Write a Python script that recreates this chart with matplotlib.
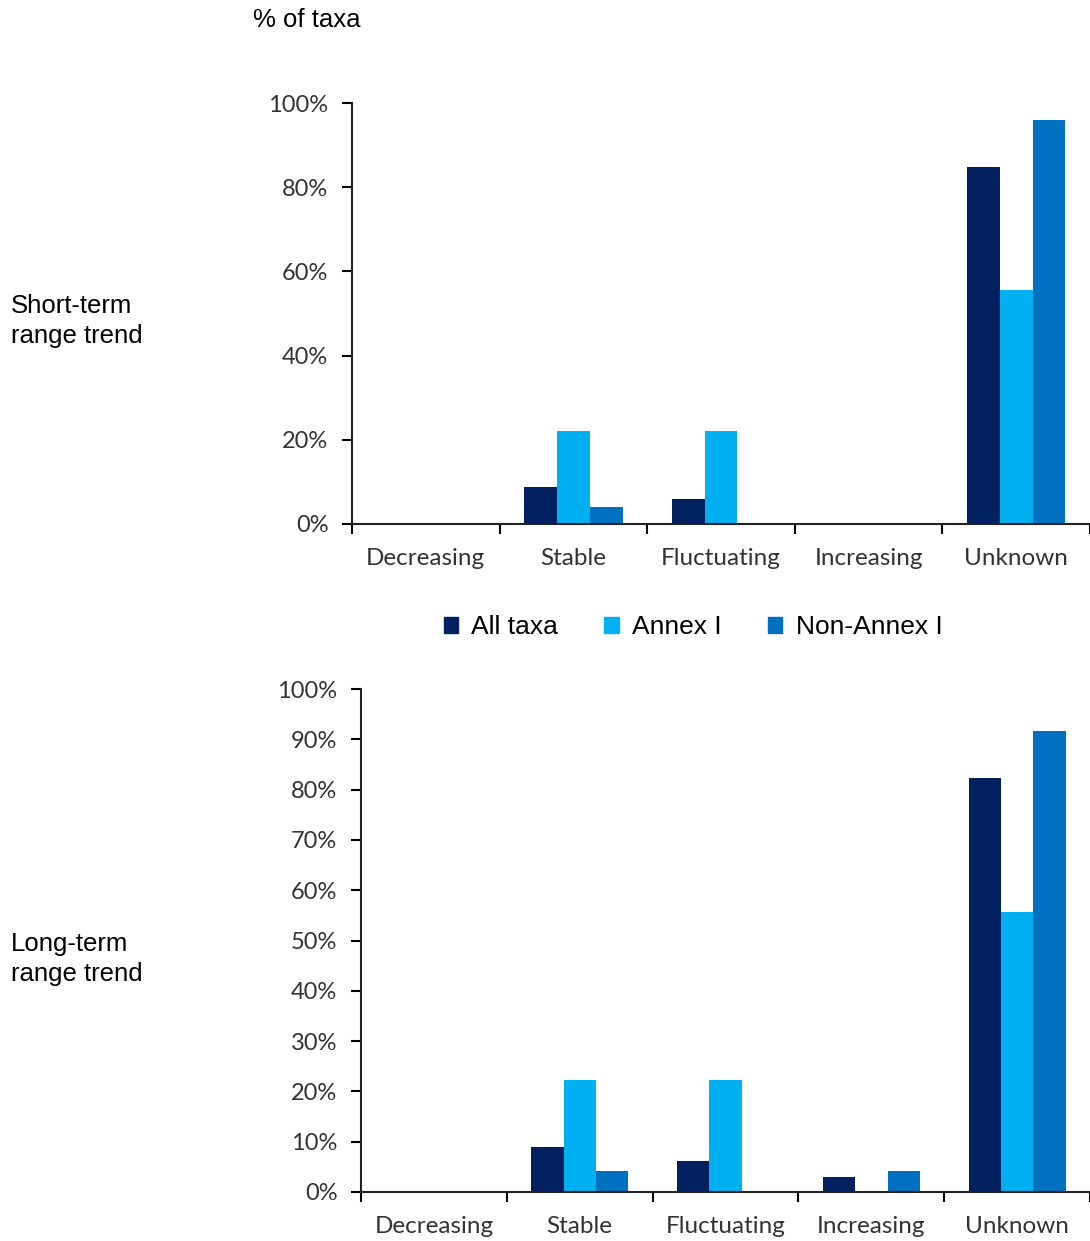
import matplotlib
matplotlib.use('Agg')
import matplotlib.pyplot as plt, numpy as np
from matplotlib.patches import Patch
from matplotlib.ticker import PercentFormatter

categories = ['Decreasing', 'Stable', 'Fluctuating', 'Increasing', 'Unknown']
series_names = ['All taxa', 'Annex I', 'Non-Annex I']
colors = ['#002060', '#00B0F0', '#0070C0']

# short-term range trend (% of taxa)
short_all = [0, 8.8, 5.9, 0, 84.8]
short_annex = [0, 22.2, 22.2, 0, 55.6]
short_non = [0, 4.0, 0, 0, 96.0]

# long-term range trend (% of taxa)
long_all = [0, 8.9, 6.2, 3.0, 82.4]
long_annex = [0, 22.2, 22.2, 0, 55.6]
long_non = [0, 4.2, 0, 4.2, 91.7]

W, H = 1090, 1241
fig = plt.figure(figsize=(W / 100, H / 100), dpi=100)

tick_font = 'Lato'
tick_col = '#333333'


def panel(rect, series, yticks):
    ax = fig.add_axes(rect)
    x = np.arange(len(categories))
    w = 1 / 4.5
    for i, (vals, c) in enumerate(zip(series, colors)):
        ax.bar(x + (i - 1) * w, vals, w, color=c, linewidth=0)
    ax.set_xlim(-0.5, len(categories) - 0.5)
    ax.set_ylim(0, 100)
    ax.set_yticks(yticks)
    ax.yaxis.set_major_formatter(PercentFormatter(decimals=0))
    ax.set_xticks(np.arange(len(categories) + 1) - 0.5)
    ax.set_xticklabels([])
    ax.set_xticks(x, minor=True)
    ax.set_xticklabels(categories, minor=True, fontsize=17.5, family=tick_font,
                       color=tick_col)
    ax.tick_params(axis='x', which='minor', length=0, pad=17)
    ax.tick_params(axis='x', which='major', length=7, width=1.5, direction='out')
    ax.tick_params(axis='y', length=7, width=1.5, direction='out', pad=10,
                   labelsize=17, labelcolor=tick_col)
    for lab in ax.get_yticklabels():
        lab.set_family(tick_font)
    for s in ['top', 'right']:
        ax.spines[s].set_visible(False)
    for s in ['left', 'bottom']:
        ax.spines[s].set_linewidth(1.5)
        ax.spines[s].set_color('#222222')
    return ax


ax1 = panel([352 / W, 1 - 524 / H, (W - 352) / W, 421 / H],
            [short_all, short_annex, short_non], np.arange(0, 101, 20))
ax2 = panel([361 / W, 1 - 1192 / H, (W - 361) / W, 503 / H],
            [long_all, long_annex, long_non], np.arange(0, 101, 10))

fig.text(253 / W, 1 - 20 / H, '% of taxa', fontsize=18.5, family='Liberation Sans',
         va='center', ha='left')
fig.text(11 / W, 1 - 321 / H, 'Short-term\nrange trend', fontsize=18.5,
         family='Liberation Sans', va='center', ha='left', linespacing=1.35)
fig.text(11 / W, 1 - 959 / H, 'Long-term\nrange trend', fontsize=18.5,
         family='Liberation Sans', va='center', ha='left', linespacing=1.35)

handles = [Patch(color=c, label=n) for c, n in zip(colors, series_names)]
fig.legend(handles=handles, loc='center', bbox_to_anchor=(693 / W, 1 - 627 / H),
           ncol=3, frameon=False, prop={'family': 'Liberation Sans', 'size': 19},
           handlelength=0.55, handleheight=0.55, handletextpad=0.5, columnspacing=1.75)

fig.savefig('out.png', dpi=100)
